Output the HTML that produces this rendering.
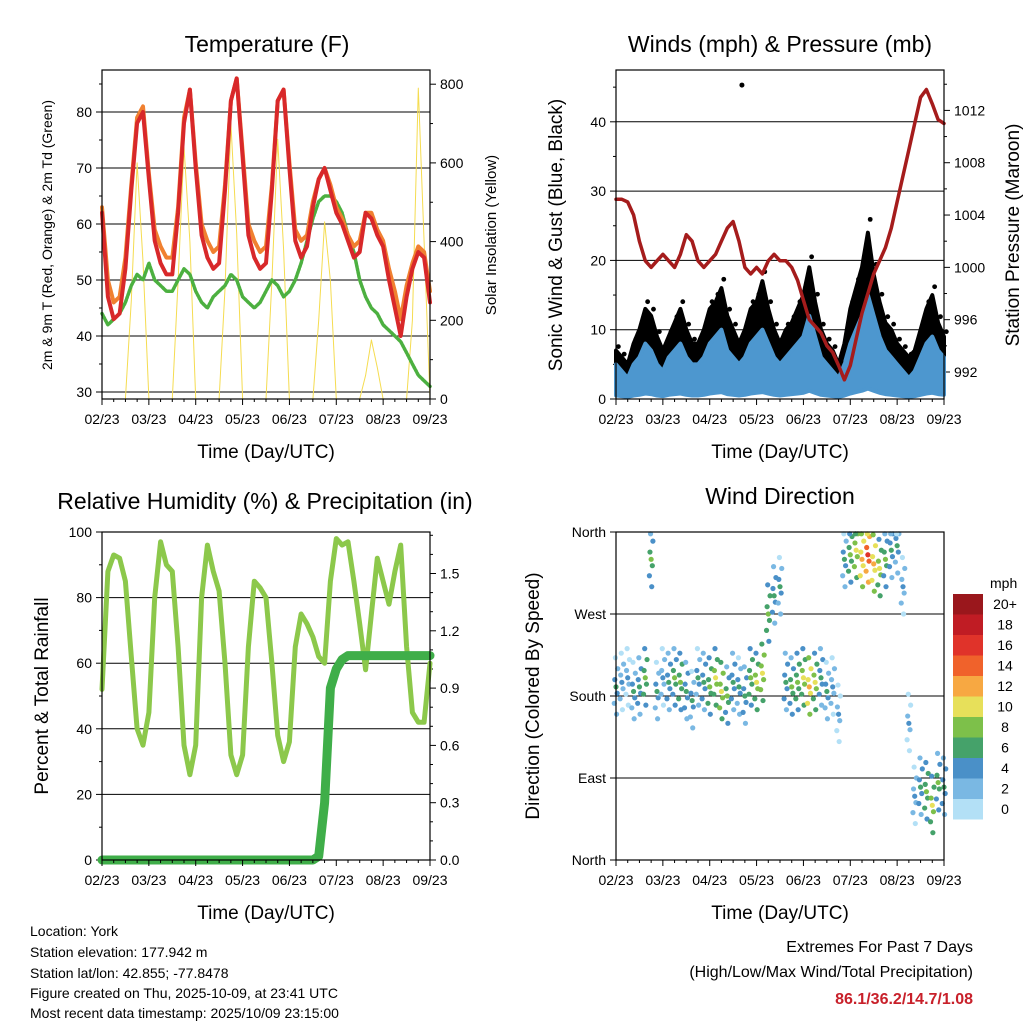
<!DOCTYPE html>
<html><head><meta charset="utf-8"><style>
html,body{margin:0;padding:0;background:#fff;}
svg text{font-family:"Liberation Sans",Arial,sans-serif;fill:#000;}
</style></head><body>
<svg id="s" xmlns="http://www.w3.org/2000/svg" width="1024" height="1024" viewBox="0 0 1024 1024">
<rect width="1024" height="1024" fill="#fff"/>
<g id="g"></g>
<text x="30" y="936" font-size="14">Location: York</text>
<text x="30" y="957" font-size="14">Station elevation: 177.942 m</text>
<text x="30" y="978" font-size="14">Station lat/lon: 42.855; -77.8478</text>
<text x="30" y="998" font-size="14">Figure created on Thu, 2025-10-09, at 23:41 UTC</text>
<text x="30" y="1018" font-size="14">Most recent data timestamp: 2025/10/09 23:15:00</text>
<text x="973" y="952" font-size="16" text-anchor="end">Extremes For Past 7 Days</text>
<text x="973" y="977" font-size="16" text-anchor="end">(High/Low/Max Wind/Total Precipitation)</text>
<text x="973" y="1004" font-size="16" font-weight="bold" text-anchor="end" style="fill:#c8202a">86.1/36.2/14.7/1.08</text>
</svg>
<script>
const xTickLabels=["02/23","03/23","04/23","05/23","06/23","07/23","08/23","09/23"];
const tempT=[62,47,43,44,52,66,78,80,68,57,53,51,51,62,78,84,70,58,54,52,53,66,82,86,72,58,54,52,53,66,82,84,70,57,54,56,63,68,70,66,62,60,57,54,55,62,61,58,56,50,45,40,47,52,55,54,46];
const temp9m=[63,50,46,47,54,67,79,81,69,59,56,54,54,63,79,84,71,60,57,55,56,67,82,86,73,60,57,55,56,67,82,84,71,59,57,58,64,68,70,67,63,61,58,56,57,62,62,59,57,52,48,43,49,53,56,55,48];
const dewpt=[44,42,43,44,46,49,51,50,53,50,49,48,48,50,52,51,48,46,45,47,48,49,51,50,47,46,45,46,48,50,49,47,48,50,53,57,61,64,65,65,64,62,58,55,50,47,45,44,42,41,40,39,37,35,33,32,31];
const solar=[0,0,0,0,0,250,600,350,0,0,0,0,0,300,640,400,0,0,0,0,0,280,700,420,0,0,0,0,0,300,660,380,0,0,0,0,0,200,450,300,0,0,0,0,0,60,150,80,0,0,0,0,0,200,790,400,0];
const pressure=[1005.2,1005.2,1005,1004,1002,1000.5,1000,1000.5,1001,1000.5,1000,1001,1002.5,1002,1000.5,1000,1000.5,1001,1002,1003,1003.5,1002,1000,999.5,1000,999.5,1000.5,1001,1000.5,1000.5,1000,999,997.5,996,995.5,995,994,993.5,992.5,991.4,992.5,994.5,996.5,998,999.5,1000.5,1001.5,1003,1005,1007,1009,1011,1013,1013.6,1012.5,1011.3,1011];
const windHi=[5,4,3,5,6,8,7,5,4,6,7,8,6,5,5,6,8,9,10,7,6,5,6,8,9,10,8,6,5,6,7,8,9,12,9,6,5,4,3,5,8,10,12,15,12,9,7,6,5,4,3,4,6,8,9,7,6];
const gustHi=[7,6,5,8,10,13,12,9,7,9,11,13,10,8,8,10,13,14,16,12,10,8,10,13,14,17,13,10,8,10,11,13,15,19,14,10,8,7,5,8,13,16,19,24,18,14,11,10,8,7,6,7,10,13,15,11,9];
const rh=[52,88,93,92,85,62,40,35,45,80,97,90,88,65,35,26,35,80,96,88,82,60,32,26,32,65,85,83,80,60,38,30,36,65,75,72,68,62,60,85,98,96,97,85,72,58,75,92,85,78,88,96,65,45,42,42,60];
const rain=[0,0,0,0,0,0,0,0,0,0,0,0,0,0,0,0,0,0,0,0,0,0,0,0,0,0,0,0,0,0,0,0,0,0,0,0,0,0.02,0.3,0.9,1.0,1.05,1.07,1.07,1.07,1.07,1.07,1.07,1.07,1.07,1.07,1.07,1.07,1.07,1.07,1.07,1.07];
const windDir=[190,195,200,185,190,200,330,185,200,195,200,195,185,175,200,195,190,200,185,180,195,190,180,200,195,205,270,290,300,195,190,195,200,190,195,200,185,190,160,330,335,340,330,335,325,320,330,340,345,300,150,70,80,75,60,85,80];
const windSpd=windHi;
const legendLabels=["20+","18","16","14","12","10","8","6","4","2","0"];
const legendColors=["#9a171c","#c01c24","#e0332a","#f0622b","#f7a842","#e7e05a","#7dc04a","#45a26a","#4a90c8","#7ab8e3","#b3e0f6"];

const NS="http://www.w3.org/2000/svg";
const G=document.getElementById('g');
function mk(tag,attrs,parent,txt){const e=document.createElementNS(NS,tag);for(const k in attrs)e.setAttribute(k,attrs[k]);if(txt!==undefined)e.textContent=txt;(parent||G).appendChild(e);return e;}
const N=56;
function panel(x0,y0,w,h,name){const g=mk('g',{});return {g,x0,y0,w,h,x:i=>x0+i/N*w};}
function frame(p){mk('rect',{x:p.x0,y:p.y0,width:p.w,height:p.h,fill:'none',stroke:'#000','stroke-width':1.2},p.g);}
function xaxis(p){
  for(let d=0;d<=28;d++){const x=p.x0+d/28*p.w;mk('line',{x1:x,x2:x,y1:p.y0+p.h,y2:p.y0+p.h+(d%4==0?6:3),stroke:'#000'},p.g);}
  xTickLabels.forEach((t,i)=>{const e=mk('text',{x:p.x0+i/7*p.w,y:p.y0+p.h+25,'font-size':14,'text-anchor':'middle'},p.g,t);});
  const e=mk('text',{x:p.x0+p.w/2,y:p.y0+p.h+59,'font-size':19,'text-anchor':'middle'},p.g,'Time (Day/UTC)');
}
function yaxis(p,vals,ymap,labels,side,grid,minor){
  const xa=side=='l'?p.x0:p.x0+p.w,s=side=='l'?-1:1;
  vals.forEach((v,i)=>{const y=ymap(v);mk('line',{x1:xa,x2:xa+s*6,y1:y,y2:y,stroke:'#000'},p.g);
    if(grid&&y>p.y0+1&&y<p.y0+p.h-1)mk('line',{x1:p.x0,x2:p.x0+p.w,y1:y,y2:y,stroke:'#000','stroke-width':1},p.g);
    const e=mk('text',{x:xa+s*10,y:y+5,'font-size':14,'text-anchor':side=='l'?'end':'start'},p.g,labels[i]);});
  (minor||[]).forEach(v=>{const y=ymap(v);if(y>=p.y0&&y<=p.y0+p.h)mk('line',{x1:xa,x2:xa+s*3,y1:y,y2:y,stroke:'#000'},p.g);});
}
function ytitle(x,y,t,fs,name){const e=mk('text',{x:x,y:y,'font-size':fs,'text-anchor':'middle',transform:`rotate(-90 ${x} ${y})`},G,t);}
function title(x,y,t,name){const e=mk('text',{x:x,y:y,'font-size':23,'text-anchor':'middle'},G,t);}
function line(p,arr,ym,color,wd,name){const d=arr.map((v,i)=>(i?'L':'M')+p.x(i).toFixed(1)+' '+ym(v).toFixed(1)).join(' ');const e=mk('path',{d:d,fill:'none',stroke:color,'stroke-width':wd,'stroke-linejoin':'round','stroke-linecap':'round'},p.g);return e;}

// Temperature
title(267,52,'Temperature (F)','temp-title');
let p=panel(102,70,328,329,'temperature-panel');
const ty=v=>392-(v-30)*5.6, sy=v=>399-v*0.3935;
yaxis(p,[30,40,50,60,70,80],ty,["30","40","50","60","70","80"],'l',true,[35,45,55,65,75,85]);
yaxis(p,[0,200,400,600,800],sy,["0","200","400","600","800"],'r',false,[100,300,500,700]);
line(p,solar,sy,'#f5dc50',1,'solar-line');
line(p,dewpt,ty,'#4cb040',3.5,'dewpoint-line').setAttribute('stroke-dasharray','2 1.5');
line(p,temp9m,ty,'#f08030',4,'temp-9m-line');
line(p,tempT,ty,'#d8282a',4,'temp-2m-line');
frame(p);xaxis(p);
ytitle(52,235,'2m & 9m T (Red, Orange) & 2m Td (Green)',14,'temp-y-title');
ytitle(496,235,'Solar Insolation (Yellow)',15,'solar-y-title');

// Winds
title(780,52,'Winds (mph) & Pressure (mb)','winds-title');
p=panel(616,70,328,329,'winds-panel');
const wy=v=>399-v*6.93, py=v=>372-(v-992)*13.08;
yaxis(p,[0,10,20,30,40],wy,["0","10","20","30","40"],'l',true,[5,15,25,35,45]);
yaxis(p,[992,996,1000,1004,1008,1012],py,["992","996","1000","1004","1008","1012"],'r',false,[994,998,1002,1006,1010,1014]);
function band(p,hi,lofrac,ym,color,name){let d=hi.map((v,i)=>(i?'L':'M')+p.x(i).toFixed(1)+' '+ym(v).toFixed(1)).join(' ');
  for(let i=hi.length-1;i>=0;i--)d+=' L'+p.x(i).toFixed(1)+' '+ym(hi[i]*lofrac).toFixed(1);d+='Z';
  const e=mk('path',{d:d,fill:color,stroke:color,'stroke-width':4,'stroke-linejoin':'round'},p.g);}
band(p,gustHi,0.3,wy,'#000','gust-band');
band(p,windHi,0.1,wy,'#4d97cf','wind-band');
gustHi.forEach((v,i)=>{const c=mk('circle',{cx:p.x(i+0.4),cy:wy(v*1.08),r:2.4,fill:'#000'},p.g);});
mk('circle',{cx:p.x(21.5),cy:wy(45.3),r:2.5,fill:'#000'},p.g);
line(p,pressure,py,'#a51c1c',3.5,'pressure-line');
frame(p);xaxis(p);
ytitle(562,235,'Sonic Wind & Gust (Blue, Black)',19,'winds-y-title');
ytitle(1019,235,'Station Pressure (Maroon)',19,'pressure-y-title');

// RH
title(265,509,'Relative Humidity (%) & Precipitation (in)','rh-title');
p=panel(102,532,328,328,'rh-panel');
const ry=v=>860-v*3.28, py2=v=>860-v/0.3*57.3;
yaxis(p,[0,20,40,60,80,100],ry,["0","20","40","60","80","100"],'l',true,[10,30,50,70,90]);
yaxis(p,[0,0.3,0.6,0.9,1.2,1.5],py2,["0.0","0.3","0.6","0.9","1.2","1.5"],'r',false,[0.1,0.2,0.4,0.5,0.7,0.8,1.0,1.1,1.3,1.4,1.6,1.7]);
line(p,rh,ry,'#8cc84b',5,'rh-line');
line(p,rain,py2,'#3fae49',9,'rain-line');
frame(p);xaxis(p);
ytitle(48,696,'Percent & Total Rainfall',19,'rh-y-title');

// Wind direction
title(780,504,'Wind Direction','wdir-title');
p=panel(616,532,328,328,'wdir-panel');
const dy=v=>860-v/360*328;
yaxis(p,[0,90,180,270,360],dy,["North","East","South","West","North"],'l',true,[]);
const offs=[[-0.3,-18],[0.2,-7],[0,0],[-0.2,8],[0.3,20],[0.1,-30],[-0.1,32]];
function spdColor(s){const k=Math.min(10,Math.floor(s/2));return legendColors[10-k];}
windDir.forEach((d,i)=>{offs.forEach((o,j)=>{const s=Math.max(0,windSpd[i]+1-Math.abs(j-2)*1.2);
  const c=mk('circle',{cx:p.x(i+o[0]),cy:dy(Math.max(2,Math.min(358,d+o[1]))),r:2.6,fill:spdColor(s)},p.g);
  });});
frame(p);xaxis(p);
ytitle(539,696,'Direction (Colored By Speed)',19,'wdir-y-title');
// legend
mk('text',{x:990,y:588,'font-size':14},G,'mph');
legendColors.forEach((c,i)=>{const r=mk('rect',{x:953,y:594+i*20.5,width:30,height:20.5,fill:c});
  const t=mk('text',{x:1005,y:609+i*20.5,'font-size':14,'text-anchor':'middle'},G,legendLabels[i]);});
</script>
</body></html>
